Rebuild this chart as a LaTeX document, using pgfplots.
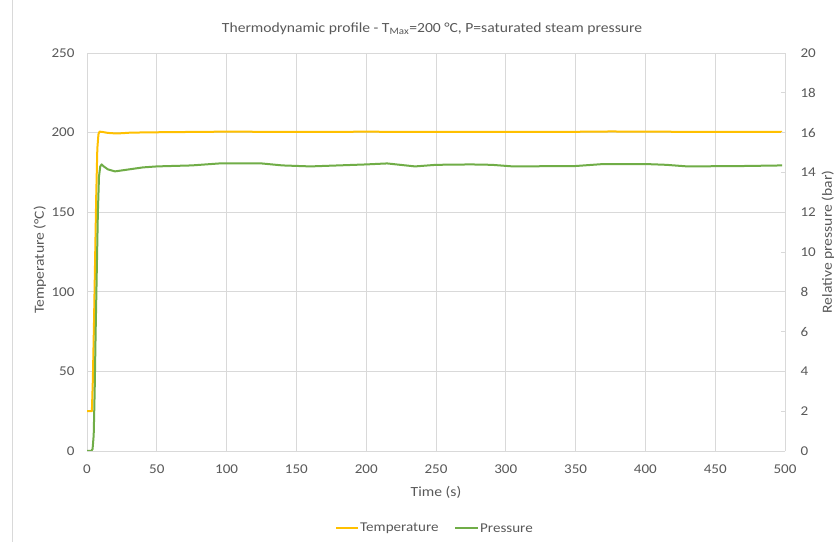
\documentclass[border=0pt]{standalone}
\usepackage{pgfplots}
\pgfplotsset{compat=1.18}
\usepackage{fontspec}
\setmainfont[FakeStretch=1.12]{Carlito}
\definecolor{txt}{HTML}{595959}
\definecolor{grd}{HTML}{D9D9D9}
\definecolor{tcol}{HTML}{FFC000}
\definecolor{pcol}{HTML}{70AD47}
\begin{document}
\begin{tikzpicture}[x=1bp,y=1bp]
\useasboundingbox (0,0) rectangle (839,542);
\fill[white] (0,0) rectangle (839,542);
\draw[grd, line width=0.8bp] (12,0) -- (12,542);
\begin{axis}[
  at={(87bp,91bp)}, anchor=origin,
  scale only axis, width=698bp, height=398bp,
  xmin=0, xmax=500, ymin=0, ymax=250,
  xtick={0,50,...,500}, ytick={0,50,...,250},
  grid=major, major grid style={grd, line width=0.8bp},
  axis line style={draw=none}, tick style={draw=none},
  tick label style={font=\fontsize{13.5}{15}\selectfont, text=txt},
  /pgf/number format/assume math mode=true,
  xticklabel style={yshift=-10bp},
  yticklabel style={xshift=-9bp},
  xlabel={Time (s)},
  label style={font=\fontsize{14}{16}\selectfont, text=txt},
  xlabel style={yshift=-6bp},
  clip=false,
]
\addplot[tcol, line width=2bp, line join=round] coordinates {
(0,25)(3.5,25)(4.2,45)(5,80)(5.8,120)(6.6,160)(7.4,190)(8.2,199)(9,200.6)(11,200.4)(15,199.8)(20,199.5)(25,199.6)(30,199.9)(40,200.1)(50,200.2)(60,200.3)(75,200.4)(100,200.6)(125,200.5)(150,200.5)(175,200.4)(200,200.6)(225,200.4)(250,200.4)(275,200.5)(300,200.4)(325,200.5)(350,200.5)(375,200.7)(400,200.6)(425,200.5)(450,200.5)(475,200.5)(498,200.5)
};
\end{axis}
\begin{axis}[
  at={(87bp,91bp)}, anchor=origin,
  scale only axis, width=698bp, height=398bp,
  xmin=0, xmax=500, ymin=0, ymax=20,
  axis x line=none,
  axis y line*=right,
  ytick={0,2,...,20},
  axis line style={draw=none},
  major tick length=4bp,
  ytick style={grd, line width=0.8bp},
  tick label style={font=\fontsize{13.5}{15}\selectfont, text=txt},
  /pgf/number format/assume math mode=true,
  yticklabel style={xshift=12bp},
]
\addplot[pcol, line width=2bp, line join=round] coordinates {
(0,0)(3,0)(4,0.1)(4.8,0.8)(5.5,3)(6.2,6)(7,9)(7.8,12)(8.6,13.8)(9.5,14.3)(10.5,14.4)(12,14.3)(15,14.15)(20,14.05)(25,14.1)(30,14.15)(40,14.25)(50,14.3)(75,14.35)(95,14.45)(110,14.45)(125,14.45)(140,14.35)(160,14.3)(200,14.4)(215,14.45)(235,14.3)(250,14.38)(275,14.4)(290,14.38)(305,14.3)(350,14.32)(370,14.42)(400,14.42)(415,14.38)(430,14.3)(470,14.32)(498,14.35)
};
\end{axis}
\node[rotate=90, font=\fontsize{14}{16}\selectfont, text=txt] at (40,282) {Temperature (°C)};
\node[rotate=90, font=\fontsize{14}{16}\selectfont, text=txt] at (828,300) {Relative pressure (bar)};
\node[font=\fontsize{14}{16}\selectfont, text=txt] at (432,513) {Thermodynamic profile - T\textsubscript{Max}=200 °C, P=saturated steam pressure};
\draw[tcol, line width=2bp] (336,14) -- (358,14);
\node[anchor=west, font=\fontsize{13.5}{15}\selectfont, text=txt, inner sep=1bp] at (359,14) {Temperature};
\draw[pcol, line width=2bp] (455,14) -- (478,14);
\node[anchor=west, font=\fontsize{13.5}{15}\selectfont, text=txt, inner sep=1bp] at (479,14) {Pressure};
\end{tikzpicture}
\end{document}
